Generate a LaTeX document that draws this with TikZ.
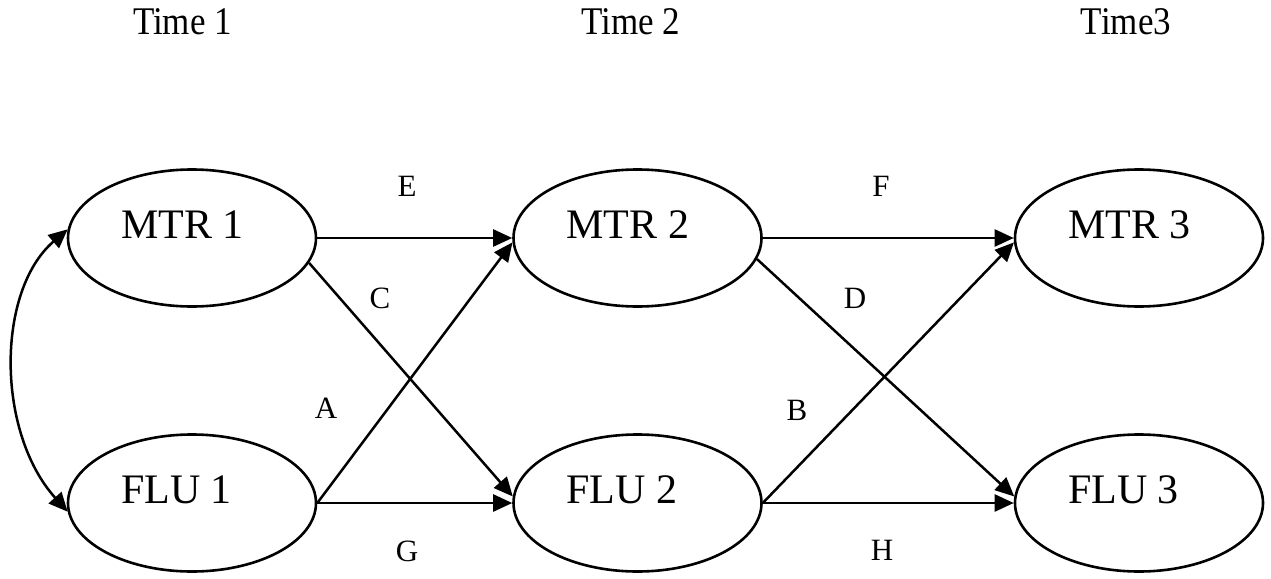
\documentclass[tikz,border=0pt]{standalone}
\usepackage{fontspec}
\setmainfont{Liberation Serif}
\usetikzlibrary{arrows.meta,shapes.geometric}
\newcommand{\elltext}[1]{\smash{\makebox[0pt][l]{\hspace{-71pt}#1}}}
\begin{document}
\begin{tikzpicture}[x=1pt,y=-1pt,
  var/.style={draw,ellipse,line width=2.6pt,minimum width=248pt,minimum height=137pt,inner sep=0pt,font=\fontsize{42}{50}\selectfont},
  arr/.style={line width=2.5pt,-{Triangle[length=19pt,width=17pt]}},
  dbl/.style={line width=2.5pt,{Triangle[length=19pt,width=17pt]}-{Triangle[length=19pt,width=17pt]}},
  lab/.style={inner sep=0pt,font=\fontsize{31}{36}\selectfont},
  time/.style={inner sep=0pt,anchor=base,font=\fontsize{35}{40}\selectfont}]
\useasboundingbox (0,0) rectangle (1271,578);
% time headers
\node[time] (t1) at (182.5,35) {\scalebox{1}[1.12]{Time 1}};
\node[time] (t2) at (631,35) {\scalebox{1}[1.12]{Time 2}};
\node[time] (t3) at (1126,35) {\scalebox{1}[1.12]{Time3}};
% variables
\node[var] (m1) at (192,238) {\elltext{MTR 1}};
\node[var] (f1) at (192,503) {\elltext{FLU 1}};
\node[var] (m2) at (637.5,238) {\elltext{MTR 2}};
\node[var] (f2) at (637.5,503) {\elltext{FLU 2}};
\node[var] (m3) at (1139,238) {\elltext{MTR 3}};
\node[var] (f3) at (1139,503) {\elltext{FLU 3}};
% paths
\draw[arr] (m1.east) -- (m2.west);
\draw[arr] (f1.east) -- (f2.west);
\draw[arr] (m2.east) -- (m3.west);
\draw[arr] (f2.east) -- (f3.west);
\draw[arr] (m1.-12) -- (f2.177);
\draw[arr] (f1.east) -- (m2.182);
\draw[arr] (m2.-10) -- (f3.177);
\draw[arr] (f2.east) -- (m3.182);
\draw[dbl] (m1.176) .. controls (-4,291) and (-4,432) .. (f1.184);
% labels
\node[lab] (le) at (407,186) {E};
\node[lab] (lf) at (881,186) {F};
\node[lab] (lc) at (380,298) {C};
\node[lab] (ld) at (855,298) {D};
\node[lab] (la) at (326,408) {A};
\node[lab] (lb) at (797,410) {B};
\node[lab] (lg) at (407,551) {G};
\node[lab] (lh) at (882,550) {H};
\end{tikzpicture}
\end{document}
